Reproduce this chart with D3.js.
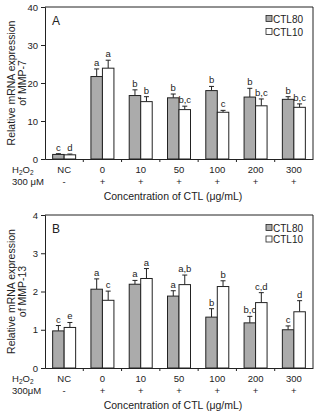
<!DOCTYPE html>
<html>
<head>
<meta charset="utf-8">
<script src="https://cdn.jsdelivr.net/npm/d3@7"></script>
<style>
  body { margin: 0; background: #fff; }
  svg text { font-family: Arial, "Liberation Sans", sans-serif; fill: #222; }
</style>
</head>
<body>
<div id="root"></div>
<script>
var categories = ["NC", "0", "10", "50", "100", "200", "300"];
var h2o2 = ["-", "+", "+", "+", "+", "+", "+"];
var series = ["CTL80", "CTL10"];

// panel A, MMP-7
var mmp7Ctl80 = [1.2, 21.7, 16.7, 16.1, 18.0, 16.3, 15.7];
var mmp7Ctl80Err = [0.2, 2.0, 1.5, 1.0, 1.1, 2.3, 0.7];
var mmp7Ctl10 = [1.1, 23.9, 15.1, 13.0, 12.3, 14.0, 13.6];
var mmp7Ctl10Err = [0.2, 2.1, 1.3, 0.9, 0.5, 1.8, 0.9];
var mmp7Ctl80Sig = ["c", "a", "b", "b", "b", "b", "b"];
var mmp7Ctl10Sig = ["d", "a", "b", "b,c", "c", "b,c", "b,c"];
var mmp7Ticks = [0, 10, 20, 30, 40];

// panel B, MMP-13
var mmp13Ctl80 = [0.97, 2.06, 2.19, 1.88, 1.33, 1.18, 1.0];
var mmp13Ctl80Err = [0.14, 0.27, 0.1, 0.14, 0.22, 0.17, 0.1];
var mmp13Ctl10 = [1.06, 1.77, 2.34, 2.18, 2.13, 1.71, 1.47];
var mmp13Ctl10Err = [0.13, 0.24, 0.26, 0.25, 0.15, 0.26, 0.29];
var mmp13Ctl80Sig = ["c", "a", "a", "a", "b", "b,c", "c"];
var mmp13Ctl10Sig = ["e", "c", "a", "a,b", "b", "c,d", "d"];
var mmp13Ticks = [0, 1, 2, 3, 4];

var width = 318, height = 411;
var left = 45, right = 313;
var colors = {CTL80: "#ababab", CTL10: "#ffffff"};

var svg = d3.select("#root").append("svg")
    .attr("width", width)
    .attr("height", height);

function panel(opt) {
    var g = svg.append("g");

    var x = d3.scaleBand().domain(categories).range([left, right]);
    var bw = x.bandwidth();
    var x1 = d3.scaleBand().domain(series).range([(bw - 23) / 2, (bw + 23) / 2]);
    var y = d3.scaleLinear().domain([0, opt.max]).range([opt.bottom, opt.top]);

    var rows = categories.map(function(c, i) {
        return {cat: c, vals: [
            {s: "CTL80", v: opt.a[i], e: opt.aErr[i], sig: opt.aSig[i]},
            {s: "CTL10", v: opt.b[i], e: opt.bErr[i], sig: opt.bSig[i]}
        ]};
    });

    // frame (top and right)
    g.append("path")
        .attr("d", "M" + left + "," + opt.top + "H" + right + "V" + opt.bottom)
        .attr("fill", "none").attr("stroke", "#222").attr("stroke-width", 1);

    // y axis
    var ya = g.append("g")
        .attr("transform", "translate(" + left + ",0)")
        .call(d3.axisLeft(y).tickValues(opt.ticks).tickFormat(d3.format("d"))
              .tickSize(4).tickPadding(3));
    ya.select(".domain").attr("stroke", "#222");
    ya.selectAll(".tick line").attr("stroke", "#222");
    ya.selectAll("text").attr("font-size", 9.5).attr("fill", "#222");

    // x axis
    var xa = g.append("g")
        .attr("transform", "translate(0," + opt.bottom + ")")
        .call(d3.axisBottom(x).tickSize(0).tickFormat(""));
    xa.select(".domain").attr("stroke", "#222");
    xa.selectAll(".boundary").data(categories.slice(1)).enter()
        .append("line")
        .attr("x1", function(d) { return x(d); })
        .attr("x2", function(d) { return x(d); })
        .attr("y1", 0).attr("y2", 3)
        .attr("stroke", "#222");

    var grp = g.selectAll(".grp").data(rows).enter().append("g")
        .attr("transform", function(d) { return "translate(" + x(d.cat) + ",0)"; });

    var item = grp.selectAll(".item").data(function(d) { return d.vals; }).enter().append("g");

    item.append("line")
        .attr("x1", function(d) { return x1(d.s) + x1.bandwidth() / 2; })
        .attr("x2", function(d) { return x1(d.s) + x1.bandwidth() / 2; })
        .attr("y1", function(d) { return y(d.v); })
        .attr("y2", function(d) { return y(d.v + d.e); })
        .attr("stroke", "#222");
    item.append("line")
        .attr("x1", function(d) { return x1(d.s) + x1.bandwidth() / 2 - 2.5; })
        .attr("x2", function(d) { return x1(d.s) + x1.bandwidth() / 2 + 2.5; })
        .attr("y1", function(d) { return y(d.v + d.e); })
        .attr("y2", function(d) { return y(d.v + d.e); })
        .attr("stroke", "#222");

    item.append("rect")
        .attr("x", function(d) { return x1(d.s); })
        .attr("width", x1.bandwidth())
        .attr("y", function(d) { return y(d.v); })
        .attr("height", function(d) { return y(0) - y(d.v); })
        .attr("fill", function(d) { return colors[d.s]; })
        .attr("stroke", "#222").attr("stroke-width", 1);

    item.append("text")
        .attr("x", function(d) { return x1(d.s) + x1.bandwidth() / 2; })
        .attr("y", function(d) { return y(d.v + d.e) - 3; })
        .attr("text-anchor", "middle")
        .attr("font-size", 9.5)
        .text(function(d) { return d.sig; });

    // panel letter
    g.append("text").attr("x", 52).attr("y", opt.top + 18)
        .attr("font-size", 12).text(opt.letter);

    // legend
    series.forEach(function(s, i) {
        var ly = opt.legendY + i * opt.legendGap;
        g.append("rect").attr("x", 266).attr("y", ly - 3.5).attr("width", 6).attr("height", 6)
            .attr("fill", colors[s]).attr("stroke", "#222").attr("stroke-width", 0.8);
        g.append("text").attr("x", 273).attr("y", ly + 3.5)
            .attr("font-size", 10).text(s);
    });

    // y title
    var yt = g.append("text")
        .attr("transform", "translate(15," + ((opt.top + opt.bottom) / 2) + ") rotate(-90)")
        .attr("text-anchor", "middle").attr("font-size", 10.5);
    yt.append("tspan").attr("x", 0).attr("dy", 0).text("Relative mRNA expression");
    yt.append("tspan").attr("x", 0).attr("dy", 11).text(opt.gene);

    // category rows
    var r1 = opt.bottom + 14, r2 = opt.bottom + 26;
    g.selectAll(".cl").data(categories).enter().append("text")
        .attr("x", function(d) { return x(d) + bw / 2; })
        .attr("y", r1).attr("text-anchor", "middle").attr("font-size", 9.5)
        .text(function(d) { return d; });
    g.selectAll(".hl").data(h2o2).enter().append("text")
        .attr("x", function(d, i) { return x(categories[i]) + bw / 2; })
        .attr("y", r2).attr("text-anchor", "middle").attr("font-size", 9.5)
        .text(function(d) { return d; });

    var h = g.append("text").attr("x", 12).attr("y", r1).attr("font-size", 9.5);
    h.append("tspan").text("H");
    h.append("tspan").attr("font-size", 6.5).attr("dy", 2).text("2");
    h.append("tspan").attr("dy", -2).text("O");
    h.append("tspan").attr("font-size", 6.5).attr("dy", 2).text("2");
    g.append("text").attr("x", 12).attr("y", r2).attr("font-size", 9.5).text(opt.dose);

    g.append("text").attr("x", 173).attr("y", r2 + 15)
        .attr("text-anchor", "middle").attr("font-size", 10.5)
        .text("Concentration of CTL (\u03bcg/mL)");
}

panel({letter: "A", gene: "of MMP-7", max: 40, ticks: mmp7Ticks, top: 7, bottom: 159,
       a: mmp7Ctl80, aErr: mmp7Ctl80Err, aSig: mmp7Ctl80Sig,
       b: mmp7Ctl10, bErr: mmp7Ctl10Err, bSig: mmp7Ctl10Sig,
       legendY: 19, legendGap: 13, dose: "300 \u03bcM"});

panel({letter: "B", gene: "of MMP-13", max: 4, ticks: mmp13Ticks, top: 215, bottom: 368,
       a: mmp13Ctl80, aErr: mmp13Ctl80Err, aSig: mmp13Ctl80Sig,
       b: mmp13Ctl10, bErr: mmp13Ctl10Err, bSig: mmp13Ctl10Sig,
       legendY: 228, legendGap: 11.5, dose: "300\u03bcM"});
</script>
</body>
</html>
